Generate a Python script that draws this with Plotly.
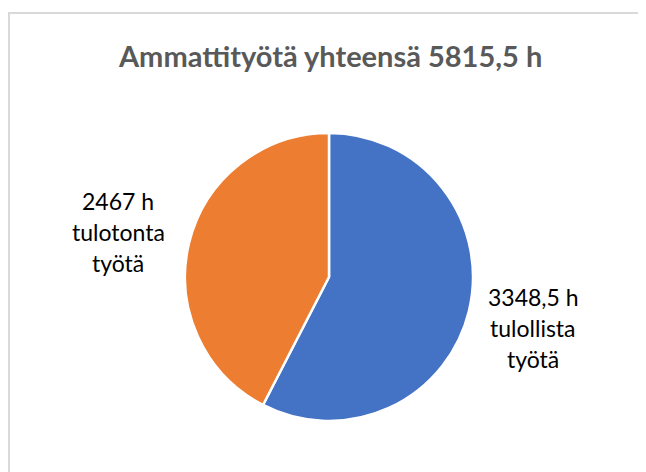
import plotly.graph_objects as go

# Data
categories = ["tulollista työtä", "tulotonta työtä"]
hours = [3348.5, 2467]
colors = ["#4472C4", "#ED7D31"]
title_text = "Ammattityötä yhteensä 5815,5 h"

# the page body adds an 8 px margin, so the figure is 8 px smaller and
# every position below is given in page pixels minus that offset
OFF = 8
W, H = 646 - OFF, 472 - OFF
FONT = "Lato, 'Open Sans', sans-serif"


def fmt_hours(value: float) -> str:
    text = f"{value:g}".replace(".", ",")
    return f"{text} h"


def px_x(x):
    return (x - OFF) / W


def px_y(y):
    return (H - (y - OFF)) / H


# pie centre (329, 277) px on the page, radius 144 px
cx, cy, r = 329, 277, 144
fig = go.Figure(
    go.Pie(
        labels=categories,
        values=hours,
        sort=False,
        direction="clockwise",
        rotation=0,
        textinfo="none",
        hoverinfo="label+value",
        marker=dict(colors=colors, line=dict(color="white", width=2.5)),
        domain=dict(x=[px_x(cx - r), px_x(cx + r)], y=[px_y(cy + r), px_y(cy - r)]),
        showlegend=False,
    )
)

# label anchor centres (page px) and line spacing
label_pos = [(533, 297), (118, 201)]
line_step = 31
annotations = []
for cat, val, (lx, ly) in zip(categories, hours, label_pos):
    lines = [fmt_hours(val)] + cat.split(" ")
    for i, line in enumerate(lines):
        annotations.append(
            dict(
                text=line,
                x=px_x(lx),
                y=px_y(ly + i * line_step),
                xref="paper",
                yref="paper",
                xanchor="center",
                yanchor="middle",
                showarrow=False,
                font=dict(family=FONT, size=23, color="#000000"),
            )
        )

annotations.append(
    dict(
        text=f"<b>{title_text}</b>",
        x=px_x(330),
        y=px_y(55),
        xref="paper",
        yref="paper",
        xanchor="center",
        yanchor="middle",
        showarrow=False,
        font=dict(family=FONT, size=29, color="#595959"),
    )
)

fig.update_layout(
    width=W,
    height=H,
    margin=dict(l=0, r=0, t=0, b=0),
    paper_bgcolor="white",
    plot_bgcolor="white",
    annotations=annotations,
    shapes=[
        dict(
            type="rect",
            xref="paper",
            yref="paper",
            x0=1 / W,
            x1=1.05,
            y0=-0.05,
            y1=px_y(13),
            line=dict(color="#D9D9D9", width=2),
            fillcolor="rgba(0,0,0,0)",
        )
    ],
)

fig.write_html("out.html", config={"displayModeBar": False})
